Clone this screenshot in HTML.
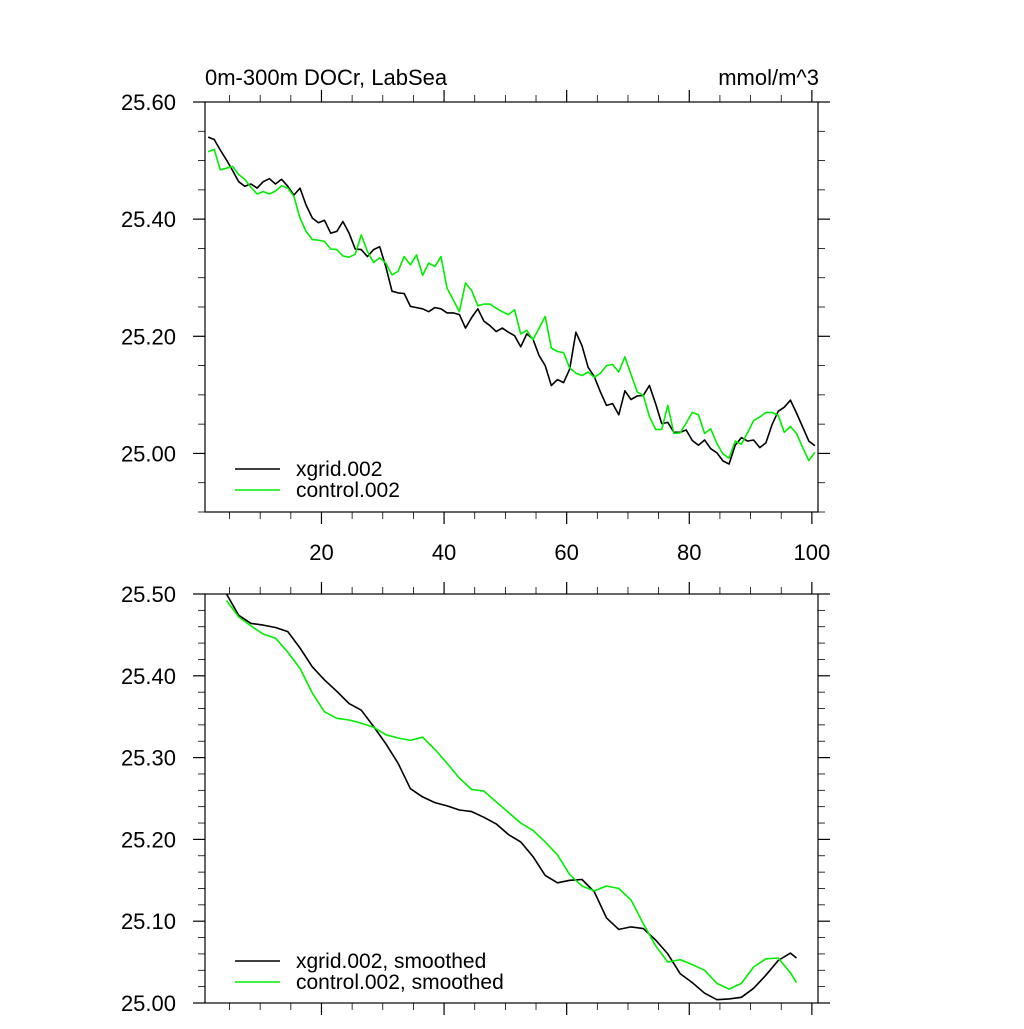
<!DOCTYPE html>
<html><head><meta charset="utf-8"><style>
html,body{margin:0;padding:0;background:#fff;}
svg text{font-family:"Liberation Sans",Arial,sans-serif;fill:#000;}
</style></head><body>
<svg id="chart" xmlns="http://www.w3.org/2000/svg" width="1024" height="1024" viewBox="0 0 1024 1024">
<rect width="1024" height="1024" fill="#fff"/>
<text x="205" y="85" font-size="22">0m-300m DOCr, LabSea</text>
<text x="819" y="85" font-size="22" text-anchor="end">mmol/m^3</text>
<g id="top"></g>
<g id="bot"></g>
</svg>
<script>
var topBlack=[25.540,25.536,25.518,25.501,25.483,25.464,25.456,25.460,25.453,25.464,25.469,25.460,25.468,25.456,25.441,25.453,25.424,25.402,25.394,25.398,25.376,25.379,25.396,25.376,25.349,25.348,25.336,25.348,25.353,25.319,25.277,25.274,25.273,25.251,25.249,25.247,25.242,25.249,25.247,25.240,25.240,25.237,25.214,25.232,25.247,25.226,25.218,25.208,
25.214,25.207,25.201,25.182,25.204,25.195,25.167,25.150,25.116,25.126,25.121,25.144,25.207,25.184,25.147,25.131,25.105,25.082,25.085,25.066,25.107,25.092,25.098,25.099,25.116,25.085,25.051,25.053,25.036,25.036,25.040,25.022,25.014,25.023,25.008,25.001,24.987,24.982,25.014,25.027,25.021,25.023,25.010,25.018,25.049,25.072,25.079,25.091,25.069,25.045,25.021,25.013];
var topGreen=[25.515,25.519,25.484,25.487,25.490,25.476,25.468,25.454,25.443,25.447,25.443,25.448,25.457,25.453,25.439,25.402,25.379,25.365,25.364,25.362,25.349,25.348,25.337,25.335,25.340,25.373,25.345,25.326,25.334,25.325,25.305,25.311,25.336,25.322,25.339,25.304,25.325,25.319,25.336,25.282,25.262,25.242,25.291,25.278,25.252,25.255,25.255,25.248,
25.242,25.237,25.245,25.204,25.210,25.194,25.214,25.234,25.180,25.174,25.172,25.146,25.137,25.133,25.139,25.130,25.137,25.150,25.152,25.139,25.165,25.135,25.105,25.099,25.063,25.041,25.041,25.082,25.034,25.035,25.052,25.070,25.066,25.034,25.042,25.017,24.999,24.992,25.021,25.016,25.035,25.056,25.062,25.070,25.070,25.065,25.036,25.046,25.034,25.010,24.988,25.002];
var smoothYears=[4,6,8,10,12,14,16,18,20,22,24,26,28,30,32,34,36,38,40,42,44,46,48,50,52,54,56,58,60,62,64,66,68,70,72,74,76,78,80,82,84,86,88,90,92,94,96,97];
var smoothBlack=[25.500,25.474,25.464,25.462,25.459,25.454,25.434,25.411,25.395,25.381,25.366,25.358,25.338,25.317,25.293,25.262,25.252,25.245,25.241,25.236,25.234,25.227,25.219,25.206,25.197,25.179,25.156,25.147,25.150,25.151,25.136,25.104,25.090,25.093,25.091,25.077,25.060,25.036,25.025,25.012,25.004,25.005,25.007,25.018,25.034,25.052,25.061,25.055];
var smoothGreen=[25.492,25.472,25.461,25.451,25.446,25.429,25.409,25.379,25.356,25.348,25.346,25.342,25.337,25.328,25.324,25.321,25.325,25.310,25.293,25.275,25.261,25.259,25.246,25.233,25.220,25.211,25.197,25.181,25.157,25.143,25.137,25.143,25.140,25.126,25.097,25.070,25.050,25.053,25.047,25.040,25.024,25.017,25.024,25.044,25.054,25.055,25.037,25.025];
var xTicks=[20,40,60,80,100];
var topYTicks=[25.00,25.20,25.40,25.60];
var botYTicks=[25.00,25.10,25.20,25.30,25.40,25.50];
var topLegend=["xgrid.002","control.002"];
var botLegend=["xgrid.002, smoothed","control.002, smoothed"];

var NS="http://www.w3.org/2000/svg";
function mk(p,t,a){var e=document.createElementNS(NS,t);for(var k in a)e.setAttribute(k,a[k]);p.appendChild(e);return e;}
var L=205,R=818;
function sx(v){return L+(v-1)*(R-L)/100;}

function panel(g,T,B,ymin,ymax,yMinor,yTicks,showX,legend,legY,series){
  function sy(v){return B-(v-ymin)*(B-T)/(ymax-ymin);}
  for(var v=5;v<=100;v+=5){
    var maj=v%20===0,len=maj?12:7;
    var t1=mk(g,'line',{x1:sx(v),x2:sx(v),y1:B,y2:B+len,stroke:'#000','stroke-width':maj?1.2:0.8});
    
    
    var t2=mk(g,'line',{x1:sx(v),x2:sx(v),y1:T,y2:T-len,stroke:'#000','stroke-width':maj?1.2:0.8});
    
    
  }
  var n=Math.round((ymax-ymin)/yMinor);
  for(var i=0;i<=n;i++){
    var v=ymin+i*yMinor,y=sy(v);
    var maj=yTicks.some(function(t){return Math.abs(t-v)<1e-6;});
    var len=maj?12:7;
    var a=mk(g,'line',{x1:L,x2:L-len,y1:y,y2:y,stroke:'#000','stroke-width':maj?1.2:0.8});
    
    
    var b=mk(g,'line',{x1:R,x2:R+len,y1:y,y2:y,stroke:'#000','stroke-width':maj?1.2:0.8});
    
    
  }
  yTicks.forEach(function(v){
    var t=mk(g,'text',{x:176,y:sy(v)+8,'font-size':22,'text-anchor':'end'});
    t.textContent=v.toFixed(2);
    
    
  });
  if(showX){xTicks.forEach(function(v){
    var t=mk(g,'text',{x:sx(v),y:B+48,'font-size':22,'text-anchor':'middle'});
    t.textContent=v;
    
    
  });}
  series.forEach(function(s,k){
    var d=s.y.map(function(v,i){return (i?'L':'M')+sx(s.x[i]).toFixed(1)+' '+sy(v).toFixed(1);}).join(' ');
    var p=mk(g,'path',{d:d,fill:'none',stroke:s.c,'stroke-width':1.6,'stroke-linejoin':'round'});
    
    
    var ly=legY+k*21;
    var ll=mk(g,'line',{x1:235,x2:280,y1:ly,y2:ly,stroke:s.c,'stroke-width':1.6});
    
    
    var lt=mk(g,'text',{x:296,y:ly+7,'font-size':21});
    lt.textContent=legend[k];
    
    
  });
  var fr=mk(g,'rect',{x:L,y:T,width:R-L,height:B-T,fill:'none',stroke:'#000','stroke-width':1.2});
  
  
}
var topX=topBlack.map(function(_,i){return i+1.5;});
var smX=smoothYears.map(function(v){return v+0.5;});
panel(document.getElementById('top'),102,512,24.9,25.6,0.05,topYTicks,true,topLegend,469,
  [{x:topX,y:topBlack,c:'#000',n:'xgrid-line'},{x:topX,y:topGreen,c:'#00ee00',n:'control-line'}]);
panel(document.getElementById('bot'),594,1003,25.0,25.5,0.02,botYTicks,false,botLegend,961,
  [{x:smX,y:smoothBlack,c:'#000',n:'xgrid-smoothed-line'},{x:smX,y:smoothGreen,c:'#00ee00',n:'control-smoothed-line'}]);
</script>
</body></html>
